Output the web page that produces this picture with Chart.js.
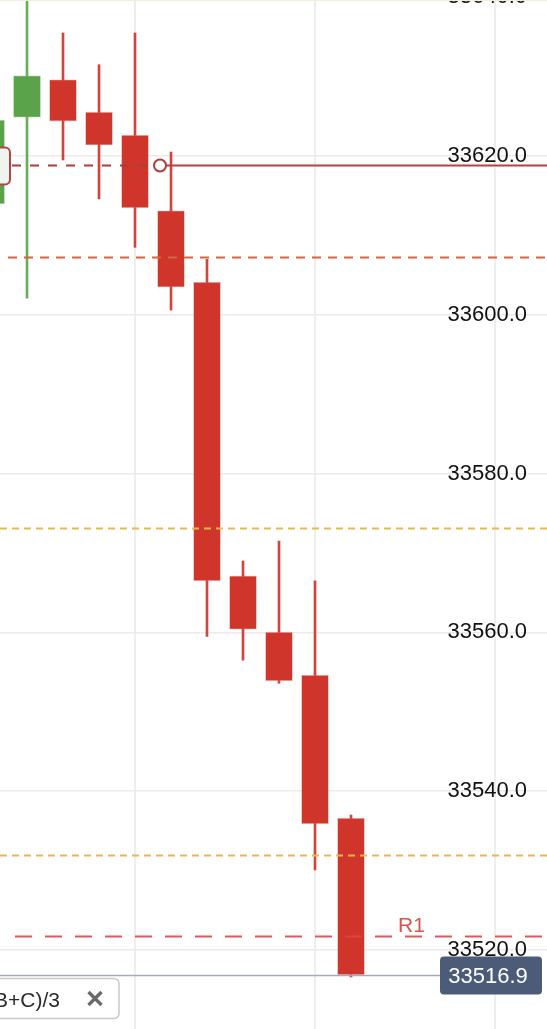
<!DOCTYPE html>
<html>
<head>
<meta charset="utf-8">
<script src="https://cdn.jsdelivr.net/npm/chart.js@4/dist/chart.umd.min.js"></script>
<style>
  html, body { margin: 0; padding: 0; background: #fff; overflow: hidden; width: 547px; height: 1029px; position: relative; }
  #wrap { position: absolute; left: -27px; top: -40px; }
</style>
</head>
<body>
<div id="wrap"><canvas id="candles" width="576" height="1109"></canvas></div>
<script>
// candle data (one slot per bar, empty slots on the right)
const slots = ['10:01','10:02','10:03','10:04','10:05','10:06','10:07','10:08',
               '10:09','10:10','10:11','10:12','10:13','10:14','10:15','10:16'];
const opens  = [33614.0, 33624.9, 33629.6, 33625.5, 33622.6, 33613.1, 33604.1, 33567.1, 33560.0, 33554.6, 33536.6];
const highs  = [33626.0, 33642.0, 33635.5, 33631.5, 33635.5, 33620.5, 33607.0, 33569.0, 33571.5, 33566.5, 33537.0];
const lows   = [33612.0, 33602.1, 33619.5, 33614.6, 33608.5, 33600.6, 33559.5, 33556.5, 33553.6, 33530.1, 33516.6];
const closes = [33624.5, 33630.1, 33624.4, 33621.4, 33613.5, 33603.5, 33566.5, 33560.4, 33553.9, 33535.9, 33516.9];

// horizontal levels
const pivotLevel = 33618.9;
const dashLevels = [33607.3, 33573.2, 33532.0];
const r1Level = 33521.7;
const lastPrice = 33516.9;
const indicatorName = '(A+B+C)/3';

// axis range / ticks
const yMin = 33505.01;
const yMax = 33644.69;
const yTicks = [33520, 33540, 33560, 33580, 33600, 33620, 33640];

const UP = '#5ba34b', DOWN = '#cf352b';
const UP_WICK = '#68ad58', DOWN_WICK = '#d4433d';
const isUp = opens.map((o, i) => closes[i] >= o);

const bodies = opens.map((o, i) => [o, closes[i]]);
const wicks = lows.map((l, i) => [l, highs[i]]);

const SHIFT_X = 27; // canvas starts 27px left of the page
const FONT = 'Helvetica, Arial, "Liberation Sans", sans-serif';

const overlay = {
  id: 'overlay',
  afterDatasetsDraw(chart) {
    const { ctx, scales: { y } } = chart;
    const X = vx => vx + SHIFT_X;
    const Y = v => Math.round(y.getPixelForValue(v)) + 0.5;
    const right = chart.width;
    ctx.save();
    ctx.lineWidth = 2;

    // orange / yellow dashed levels
    const dashColors = ['#d6653d', '#ecb650', '#ecb650'];
    const dashPatterns = [[9, 7], [7, 5], [7, 5]];
    const dashStart = [8, 0, 0];
    dashLevels.forEach((v, i) => {
      ctx.strokeStyle = dashColors[i];
      ctx.setLineDash(dashPatterns[i]);
      ctx.beginPath();
      ctx.moveTo(X(dashStart[i]), Y(v));
      ctx.lineTo(right, Y(v));
      ctx.stroke();
    });

    // R1
    ctx.strokeStyle = 'rgba(221,70,70,0.9)';
    ctx.setLineDash([17, 13]);
    ctx.beginPath();
    ctx.moveTo(X(15), Y(r1Level));
    ctx.lineTo(right, Y(r1Level));
    ctx.stroke();
    ctx.setLineDash([]);
    ctx.fillStyle = '#d9534f';
    ctx.font = '21px ' + FONT;
    ctx.textAlign = 'left';
    ctx.textBaseline = 'alphabetic';
    ctx.fillText('R1', X(398), Y(r1Level) - 5);

    // pivot line: dashed to the marker, solid after
    const py = Y(pivotLevel);
    ctx.strokeStyle = '#b03b3b';
    ctx.setLineDash([9, 9]);
    ctx.beginPath();
    ctx.moveTo(X(12), py);
    ctx.lineTo(X(153), py);
    ctx.stroke();
    ctx.setLineDash([]);
    ctx.strokeStyle = '#b8403f';
    ctx.beginPath();
    ctx.moveTo(X(166), py);
    ctx.lineTo(right, py);
    ctx.stroke();
    ctx.fillStyle = '#fff';
    ctx.strokeStyle = '#b03b3b';
    ctx.beginPath();
    ctx.arc(X(160), py, 6, 0, Math.PI * 2);
    ctx.fill();
    ctx.stroke();
    // label box cut off at the left edge
    ctx.fillStyle = '#eff5ee';
    ctx.strokeStyle = '#b54444';
    ctx.beginPath();
    ctx.roundRect(X(-40), py - 18, 50, 37, 5);
    ctx.fill();
    ctx.stroke();

    // last price line and tag
    const ly = Y(lastPrice);
    ctx.strokeStyle = '#a3acbc';
    ctx.lineWidth = 1.5;
    ctx.beginPath();
    ctx.moveTo(X(0), ly);
    ctx.lineTo(X(440), ly);
    ctx.stroke();
    ctx.fillStyle = '#4c5b78';
    ctx.beginPath();
    ctx.roundRect(X(440), ly - 19, 102, 38, 4);
    ctx.fill();
    ctx.fillStyle = '#fff';
    ctx.font = '22px ' + FONT;
    ctx.textAlign = 'center';
    ctx.textBaseline = 'middle';
    ctx.fillText(lastPrice.toFixed(1), X(488), ly + 1);

    // indicator chip at the bottom left
    ctx.fillStyle = '#fff';
    ctx.strokeStyle = '#c9c9c9';
    ctx.lineWidth = 1.5;
    ctx.beginPath();
    ctx.roundRect(X(-60), ly + 3, 179, 40, 5);
    ctx.fill();
    ctx.stroke();
    ctx.fillStyle = '#2a2a2a';
    ctx.font = '21px ' + FONT;
    ctx.textAlign = 'right';
    ctx.textBaseline = 'alphabetic';
    ctx.fillText(indicatorName, X(60), ly + 31);
    ctx.strokeStyle = '#6a6a6a';
    ctx.lineWidth = 3.4;
    const cx = X(95), cy = ly + 23;
    ctx.beginPath();
    ctx.moveTo(cx - 6.5, cy - 6.5); ctx.lineTo(cx + 6.5, cy + 6.5);
    ctx.moveTo(cx + 6.5, cy - 6.5); ctx.lineTo(cx - 6.5, cy + 6.5);
    ctx.stroke();

    // faint top border
    ctx.strokeStyle = '#f6edd8';
    ctx.lineWidth = 2;
    ctx.beginPath();
    ctx.moveTo(0, 40); ctx.lineTo(right, 40);
    ctx.stroke();
    ctx.restore();
  }
};

new Chart(document.getElementById('candles'), {
  type: 'bar',
  data: {
    labels: slots,
    datasets: [
      {
        label: 'body',
        data: bodies,
        backgroundColor: isUp.map(u => u ? UP : DOWN),
        borderColor: isUp.map(u => u ? 'rgba(120,185,105,0.6)' : 'rgba(230,110,100,0.5)'),
        borderWidth: 0.8,
        borderSkipped: false,
        barThickness: 27,
        grouped: false,
      },
      {
        label: 'wick',
        data: wicks,
        backgroundColor: isUp.map(u => u ? UP_WICK : DOWN_WICK),
        barThickness: 2,
        grouped: false,
      },
    ],
  },
  options: {
    responsive: false,
    animation: false,
    layout: { padding: 0, autoPadding: false },
    plugins: { legend: { display: false }, tooltip: { enabled: false } },
    scales: {
      x: {
        offset: true,
        grid: {
          offset: false,
          drawTicks: false,
          lineWidth: 2,
          color: c => (c.index % 5 === 4 ? '#eeeeee' : 'rgba(0,0,0,0)'),
        },
        border: { display: false },
        ticks: { display: false, autoSkip: false },
      },
      y: {
        position: 'right',
        min: yMin,
        max: yMax,
        afterBuildTicks: scale => { scale.ticks = yTicks.map(v => ({ value: v })); },
        grid: { drawTicks: false, color: '#ebebeb', lineWidth: 1.5 },
        border: { display: false },
        ticks: {
          mirror: true,
          padding: -22,
          color: '#111',
          font: { family: FONT, size: 22 },
          callback: v => Number(v).toFixed(1),
        },
      },
    },
  },
  plugins: [overlay],
});
</script>
</body>
</html>
